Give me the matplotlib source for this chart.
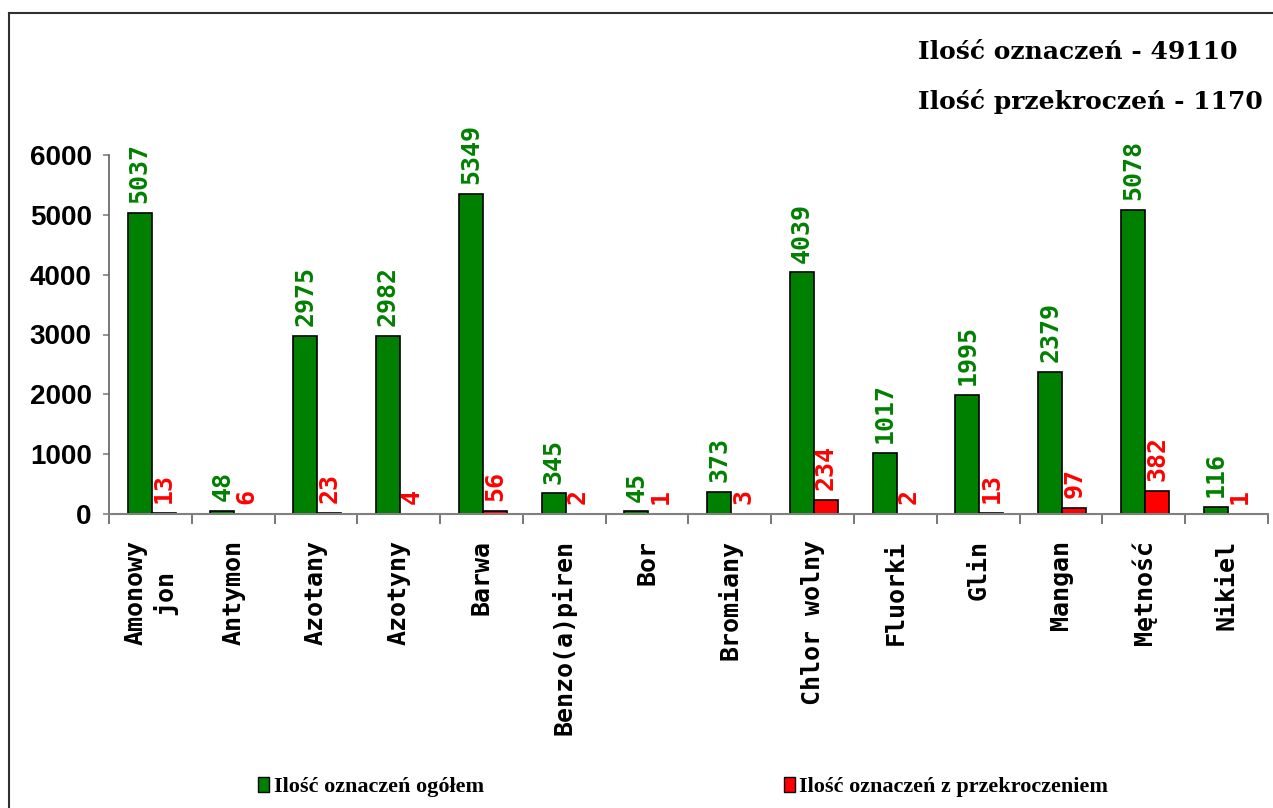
import matplotlib
matplotlib.use("Agg")
import matplotlib.pyplot as plt
from matplotlib.lines import Line2D
from matplotlib.patches import Patch
import numpy as np

# data
categories = ["Amonowy\njon", "Antymon", "Azotany", "Azotyny", "Barwa",
              "Benzo(a)piren", "Bor", "Bromiany", "Chlor wolny", "Fluorki",
              "Glin", "Mangan", "Mętność", "Nikiel"]
total = [5037, 48, 2975, 2982, 5349, 345, 45, 373, 4039, 1017, 1995, 2379, 5078, 116]
exceed = [13, 6, 23, 4, 56, 2, 1, 3, 234, 2, 13, 97, 382, 1]
yticks = [0, 1000, 2000, 3000, 4000, 5000, 6000]

green = "#008000"
red = "#ff0000"

fig = plt.figure(figsize=(12.73, 8.08), dpi=100)
ax = fig.add_axes([109 / 1273, 1 - 514 / 808, (1268 - 109) / 1273, (514 - 155) / 808])

x = np.arange(len(categories))
w = 0.29
b1 = ax.bar(x - 0.13, total, w, color=green, edgecolor="black", linewidth=1.2)
b2 = ax.bar(x + 0.16, exceed, w, color=red, edgecolor="black", linewidth=1.2)

for xi, v in zip(x, total):
    ax.annotate(str(v), (xi - 0.13, v), xytext=(0, 7), textcoords="offset points",
                rotation=90, ha="center", va="bottom", color=green,
                fontsize=18, fontweight="bold", family="DejaVu Sans Mono")
for xi, v in zip(x, exceed):
    ax.annotate(str(v), (xi + 0.16, v), xytext=(0, 7), textcoords="offset points",
                rotation=90, ha="center", va="bottom", color=red,
                fontsize=18, fontweight="bold", family="DejaVu Sans Mono")

ax.set_xlim(-0.5, len(categories) - 0.5)
ax.set_ylim(0, 6000)
ax.set_yticks(yticks)
ax.set_yticklabels([str(t) for t in yticks], fontsize=20, fontweight="bold",
                   family="Liberation Sans")
ax.tick_params(axis="y", length=4.5, width=1.2, color="#808080", pad=8)

ax.set_xticks(x)
ax.set_xticklabels(categories, rotation=90, fontsize=18, fontweight="bold",
                   family="DejaVu Sans Mono", va="top", ha="center",
                   multialignment="center")
ax.tick_params(axis="x", which="major", length=0, pad=19)
ax.set_xticks(np.arange(len(categories) + 1) - 0.5, minor=True)
ax.tick_params(axis="x", which="minor", length=7, width=1.2, color="#606060")

for s in ["top", "right"]:
    ax.spines[s].set_visible(False)
ax.spines["left"].set_color("#606060")
ax.spines["bottom"].set_color("#808080")
ax.spines["left"].set_linewidth(1.2)
ax.spines["bottom"].set_linewidth(1.5)

# summary text in the top right
fig.text(918 / 1273, 1 - 59 / 808, "Ilość oznaczeń - 49110", fontsize=18,
         fontweight="bold", family="DejaVu Serif", va="baseline")
fig.text(918 / 1273, 1 - 109 / 808, "Ilość przekroczeń - 1170", fontsize=18,
         fontweight="bold", family="DejaVu Serif", va="baseline")

handles = [Patch(facecolor=green, edgecolor="black", linewidth=1),
           Patch(facecolor=red, edgecolor="black", linewidth=1)]
fig.legend(handles, ["Ilość oznaczeń ogółem", "Ilość oznaczeń z przekroczeniem"],
           loc="center left", bbox_to_anchor=(247 / 1273, 1 - 787 / 808),
           ncol=2, frameon=False, borderpad=0, handlelength=0.5, handleheight=0.7,
           handletextpad=0.2, columnspacing=13.5,
           prop={"family": "Liberation Serif", "weight": "bold", "size": 16})

# frame around the chart area (left and top edges visible)
fig.add_artist(Line2D([9 / 1273, 9 / 1273], [0, 1 - 13 / 808], color="#303030",
                      linewidth=1.5, transform=fig.transFigure))
fig.add_artist(Line2D([9 / 1273, 1], [1 - 13 / 808, 1 - 13 / 808], color="#303030",
                      linewidth=1.5, transform=fig.transFigure))

fig.savefig("out.png", dpi=100)
